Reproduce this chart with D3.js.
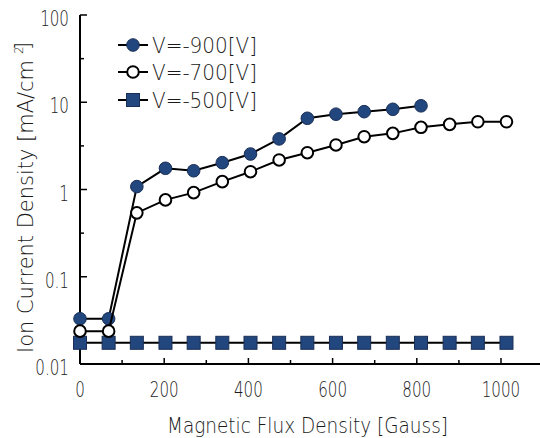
<!DOCTYPE html>
<html><head><meta charset="utf-8">
<script src="https://cdn.jsdelivr.net/npm/d3@7"></script>
<style>
html,body{margin:0;padding:0;background:#fff;}
svg{display:block;font-family:"DejaVu Sans","Liberation Sans",Arial,sans-serif;font-weight:200;}
</style></head>
<body><svg id="chart" width="540" height="438"></svg>
<script>
// ---- data ----
const fluxValues = [0, 68, 135, 203, 270, 338, 405, 473, 540, 608, 675, 743, 810, 878, 945, 1013];
const v900 = [0.033, 0.033, 1.08, 1.75, 1.64, 2.03, 2.55, 3.8, 6.55, 7.3, 7.8, 8.3, 9.1];
const v700 = [0.0238, 0.0238, 0.54, 0.76, 0.92, 1.23, 1.6, 2.18, 2.64, 3.24, 4.03, 4.4, 5.16, 5.58, 5.98, 5.98];
const v500 = [0.0175, 0.0175, 0.0175, 0.0175, 0.0175, 0.0175, 0.0175, 0.0175, 0.0175, 0.0175, 0.0175, 0.0175, 0.0175, 0.0175, 0.0175, 0.0175];
const seriesNames = ["V=-900[V]", "V=-700[V]", "V=-500[V]"];
const xTickValues = [0, 200, 400, 600, 800, 1000];
const xMinorTickValues = [100, 300, 500, 700, 900, 1100];
const yTickValues = [0.01, 0.1, 1, 10, 100];
const yTickLabels = ["0.01", "0.1", "1", "10", "100"];
const yMinorTickValues = [0.0316, 0.316, 3.16, 31.6];
const xTitle = "Magnetic Flux Density [Gauss]";
const yTitle = "Ion Current Density [mA/cm";

const navy = "#22467e";
const txt = "#1a1a1a";
const svg = d3.select("#chart");
const x = d3.scaleLinear().domain([0, 1000]).range([80, 501]);
const y = d3.scaleLog().domain([0.01, 100]).range([364, 15]);
const xEnd = 540;

function squeeze(sel, ratio) {
  sel.each(function () {
    const w = this.getComputedTextLength();
    d3.select(this).attr("textLength", w * ratio).attr("lengthAdjust", "spacingAndGlyphs");
  });
}

// axes lines
svg.append("line").attr("x1", 80).attr("x2", xEnd).attr("y1", y(0.01)).attr("y2", y(0.01))
  .attr("stroke", "#000").attr("stroke-width", 2);
svg.append("line").attr("x1", 80).attr("x2", 80).attr("y1", y(100)).attr("y2", y(0.01))
  .attr("stroke", "#000").attr("stroke-width", 2);

// x ticks (inward)
svg.selectAll(".xt").data(xTickValues).enter().append("line")
  .attr("x1", d => x(d)).attr("x2", d => x(d)).attr("y1", y(0.01)).attr("y2", y(0.01) - 6)
  .attr("stroke", "#000").attr("stroke-width", 1.5);
svg.selectAll(".xm").data(xMinorTickValues.filter(d => x(d) < xEnd)).enter().append("line")
  .attr("x1", d => x(d)).attr("x2", d => x(d)).attr("y1", y(0.01)).attr("y2", y(0.01) - 4)
  .attr("stroke", "#000").attr("stroke-width", 1.5);
// y ticks (inward)
svg.selectAll(".yt").data(yTickValues).enter().append("line")
  .attr("x1", 80).attr("x2", 87).attr("y1", d => y(d)).attr("y2", d => y(d))
  .attr("stroke", "#000").attr("stroke-width", 1.5);
svg.selectAll(".ym").data(yMinorTickValues).enter().append("line")
  .attr("x1", 80).attr("x2", 84).attr("y1", d => y(d)).attr("y2", d => y(d))
  .attr("stroke", "#000").attr("stroke-width", 1.5);

// tick labels
const xl = svg.selectAll(".xl").data(xTickValues).enter().append("text")
  .attr("x", d => x(d)).attr("y", 397).attr("text-anchor", "middle")
  .attr("font-size", 21).attr("fill", txt).text(d => d);
squeeze(xl, 0.72);
const yl = svg.selectAll(".yl").data(yTickValues).enter().append("text")
  .attr("x", 69).attr("y", d => y(d) + 11).attr("text-anchor", "end")
  .attr("font-size", 21).attr("fill", txt).text((d, i) => yTickLabels[i]);
squeeze(yl, 0.72);

// axis titles
svg.append("text").attr("x", 307.5).attr("y", 433).attr("text-anchor", "middle")
  .attr("font-size", 21).attr("fill", txt).text(xTitle)
  .attr("textLength", 281).attr("lengthAdjust", "spacingAndGlyphs");
svg.append("text").attr("transform", "translate(33,353) rotate(-90)")
  .attr("font-size", 21).attr("fill", txt).text(yTitle)
  .attr("textLength", 293).attr("lengthAdjust", "spacingAndGlyphs");
svg.append("text").attr("transform", "translate(23,54) rotate(-90)")
  .attr("font-size", 12).attr("fill", txt).text("2");
svg.append("text").attr("transform", "translate(30,50) rotate(-90)")
  .attr("font-size", 21).attr("fill", txt).text("]");

// lines
const line = d3.line().x(d => x(d[0])).y(d => y(d[1]));
const s900 = v900.map((v, i) => [fluxValues[i], v]);
const s700 = v700.map((v, i) => [fluxValues[i], v]);
const s500 = v500.map((v, i) => [fluxValues[i], v]);

function drawLine(data) {
  svg.append("path").datum(data).attr("d", line).attr("fill", "none")
    .attr("stroke", "#000").attr("stroke-width", 2);
}
drawLine(s900);
svg.selectAll(".m900").data(s900).enter().append("circle")
  .attr("cx", d => x(d[0])).attr("cy", d => y(d[1])).attr("r", 6.3)
  .attr("fill", navy).attr("stroke", "#1a2f55").attr("stroke-width", 1);
drawLine(s500);
svg.selectAll(".m500").data(s500).enter().append("rect")
  .attr("x", d => x(d[0]) - 6.5).attr("y", d => y(d[1]) - 6.5).attr("width", 13).attr("height", 13)
  .attr("fill", navy).attr("stroke", "#1a2f55").attr("stroke-width", 1);
drawLine(s700);
svg.selectAll(".m700").data(s700).enter().append("circle")
  .attr("cx", d => x(d[0])).attr("cy", d => y(d[1])).attr("r", 5.8)
  .attr("fill", "#fff").attr("stroke", "#000").attr("stroke-width", 2);

// legend
const legY = [45, 72, 100];
seriesNames.forEach((name, i) => {
  const g = svg.append("g").attr("transform", `translate(0,${legY[i]})`);
  g.append("line").attr("x1", 118).attr("x2", 148).attr("y1", 0).attr("y2", 0)
    .attr("stroke", "#000").attr("stroke-width", 2);
  if (i === 0) g.append("circle").attr("cx", 133).attr("cy", 0).attr("r", 6.3)
    .attr("fill", navy).attr("stroke", "#1a2f55");
  if (i === 1) g.append("circle").attr("cx", 133).attr("cy", 0).attr("r", 5.8)
    .attr("fill", "#fff").attr("stroke", "#000").attr("stroke-width", 2);
  if (i === 2) g.append("rect").attr("x", 126.5).attr("y", -6.5).attr("width", 13).attr("height", 13)
    .attr("fill", navy).attr("stroke", "#1a2f55");
  g.append("text").attr("x", 152).attr("y", 8).attr("font-size", 21).attr("fill", txt)
    .text(name).attr("textLength", 105).attr("lengthAdjust", "spacingAndGlyphs");
});
</script></body></html>
